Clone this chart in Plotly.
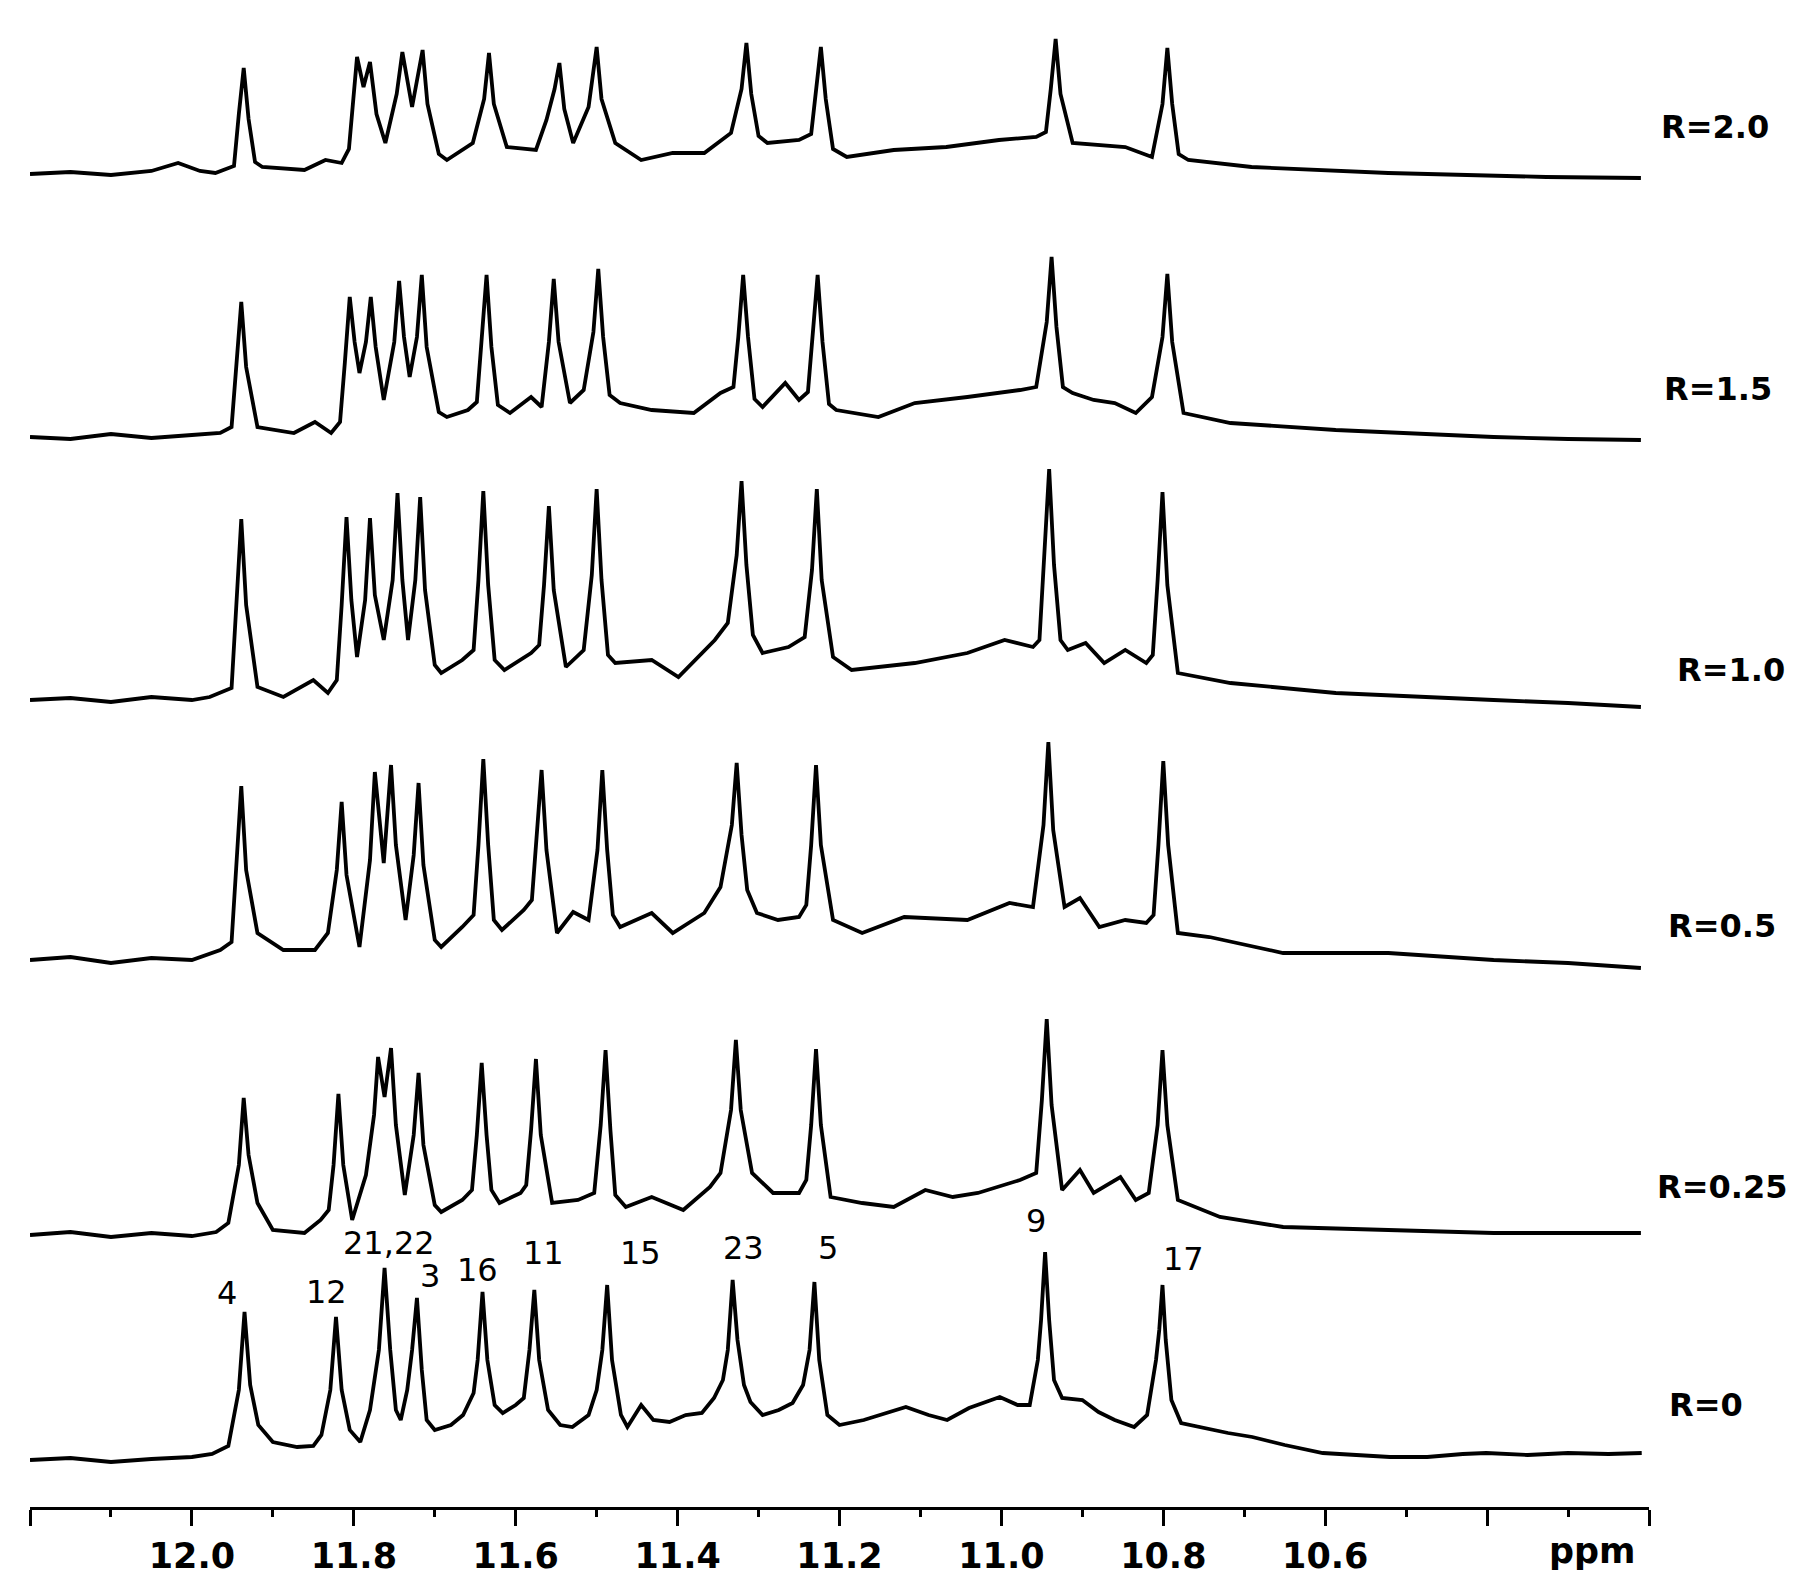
import plotly.graph_objects as go

# ---- traced spectra: (chemical shift ppm, intensity above own baseline) ----
R0 = [(12.200, 0), (12.150, 2), (12.100, -2), (12.050, 1), (12.000, 3), (11.975, 6),
      (11.955, 14), (11.942, 70), (11.935, 148), (11.928, 75), (11.918, 35), (11.900, 18),
      (11.870, 13), (11.850, 14),
      (11.840, 25), (11.829, 70), (11.822, 143), (11.815, 70), (11.805, 30), (11.792, 18),
      (11.780, 50), (11.769, 110), (11.762, 192), (11.755, 110), (11.748, 50), (11.742, 40),
      (11.734, 70), (11.728, 110), (11.722, 162), (11.716, 90), (11.710, 40), (11.700, 30),
      (11.680, 35), (11.665, 45), (11.652, 67),
      (11.647, 100), (11.641, 168), (11.635, 100), (11.626, 55), (11.616, 47),
      (11.600, 55), (11.590, 62),
      (11.583, 110), (11.577, 170), (11.571, 100), (11.560, 50), (11.545, 35), (11.530, 33), (11.510, 45),
      (11.500, 70), (11.493, 110), (11.487, 175), (11.481, 100), (11.470, 45), (11.462, 33),
      (11.445, 55), (11.430, 40), (11.410, 38), (11.390, 45), (11.370, 47), (11.355, 62), (11.344, 80),
      (11.338, 110), (11.332, 180), (11.326, 120), (11.318, 75), (11.310, 58), (11.295, 45), (11.275, 50), (11.258, 57),
      (11.245, 75), (11.237, 110), (11.231, 178), (11.225, 100), (11.215, 45), (11.200, 35),
      (11.170, 40), (11.140, 48), (11.118, 53), (11.090, 45), (11.067, 40), (11.040, 52), (11.002, 63), (10.980, 55), (10.965, 55),
      (10.955, 100), (10.951, 140), (10.946, 208), (10.941, 140), (10.935, 80), (10.925, 62), (10.900, 60), (10.880, 48),
      (10.860, 40), (10.836, 33), (10.820, 45),
      (10.809, 100), (10.805, 130), (10.801, 175), (10.797, 120), (10.790, 60), (10.778, 37),
      (10.750, 32), (10.720, 27), (10.690, 23), (10.650, 15), (10.603, 7), (10.560, 5), (10.520, 3), (10.474, 3),
      (10.430, 6), (10.401, 7), (10.350, 5), (10.300, 7), (10.250, 6), (10.209, 7)]

R025 = [(12.200, 0), (12.150, 3), (12.100, -2), (12.050, 2), (12.000, -1), (11.970, 3), (11.955, 12),
        (11.942, 70), (11.936, 137), (11.930, 80), (11.919, 32), (11.900, 5), (11.861, 2), (11.841, 15),
        (11.831, 25), (11.825, 70), (11.819, 141), (11.813, 70), (11.802, 15),
        (11.785, 60), (11.775, 120), (11.770, 178), (11.762, 138), (11.754, 187), (11.748, 110), (11.737, 40),
        (11.726, 100), (11.720, 162), (11.714, 90), (11.700, 30), (11.692, 23), (11.666, 35),
        (11.654, 45), (11.648, 100), (11.642, 172), (11.636, 100), (11.630, 45), (11.620, 32), (11.594, 42),
        (11.587, 50), (11.581, 105), (11.575, 176), (11.569, 100), (11.555, 32), (11.523, 35), (11.503, 42),
        (11.495, 110), (11.489, 185), (11.483, 105), (11.477, 40), (11.464, 28), (11.432, 38), (11.393, 25),
        (11.360, 48), (11.347, 62),
        (11.334, 125), (11.328, 195), (11.322, 125), (11.308, 62), (11.282, 42), (11.250, 42),
        (11.241, 55), (11.235, 110), (11.229, 186), (11.223, 110), (11.211, 38), (11.172, 32), (11.133, 28), (11.094, 45),
        (11.060, 38), (11.029, 42), (10.977, 55), (10.957, 62),
        (10.950, 135), (10.944, 216), (10.938, 130), (10.925, 45), (10.903, 65), (10.886, 42), (10.853, 58),
        (10.834, 35), (10.818, 42),
        (10.807, 110), (10.801, 185), (10.795, 110), (10.782, 35), (10.730, 18), (10.652, 8), (10.522, 5),
        (10.392, 2), (10.210, 2)]

R05 = [(12.200, 0), (12.150, 3), (12.100, -3), (12.050, 2), (12.000, 0), (11.965, 10),
       (11.951, 18), (11.945, 90), (11.939, 174), (11.933, 90), (11.919, 27), (11.887, 10), (11.848, 10), (11.832, 27),
       (11.821, 90), (11.815, 158), (11.809, 85), (11.793, 13),
       (11.780, 100), (11.774, 188), (11.763, 97), (11.754, 195), (11.748, 115), (11.736, 40),
       (11.726, 105), (11.720, 177), (11.714, 95), (11.700, 20), (11.692, 13), (11.666, 33),
       (11.652, 45), (11.646, 115), (11.640, 201), (11.634, 115), (11.627, 40), (11.617, 30), (11.590, 50),
       (11.580, 60), (11.574, 120), (11.568, 190), (11.562, 110), (11.549, 27), (11.529, 48), (11.510, 40),
       (11.499, 110), (11.493, 190), (11.487, 110), (11.480, 45), (11.471, 33), (11.432, 47), (11.406, 27),
       (11.367, 47), (11.347, 73),
       (11.333, 135), (11.327, 197), (11.321, 125), (11.314, 70), (11.302, 47), (11.276, 40), (11.250, 43),
       (11.241, 55), (11.235, 115), (11.229, 195), (11.223, 115), (11.208, 40), (11.172, 27), (11.120, 43), (11.042, 40),
       (10.990, 57), (10.961, 53),
       (10.948, 135), (10.942, 218), (10.936, 130), (10.922, 53), (10.903, 62), (10.879, 33), (10.847, 40), (10.821, 37),
       (10.812, 45), (10.806, 115), (10.800, 199), (10.794, 115), (10.782, 27), (10.743, 23), (10.652, 7), (10.522, 7),
       (10.392, 0), (10.300, -3), (10.210, -8)]

R10 = [(12.200, 0), (12.150, 2), (12.100, -2), (12.050, 3), (12.000, 0), (11.978, 3),
       (11.951, 12), (11.945, 95), (11.939, 181), (11.933, 95), (11.919, 13), (11.887, 3), (11.850, 20), (11.832, 7),
       (11.821, 20), (11.815, 95), (11.809, 183), (11.803, 100), (11.796, 43), (11.786, 100), (11.780, 182), (11.774, 105),
       (11.763, 60), (11.752, 120), (11.746, 207), (11.740, 120), (11.733, 60), (11.724, 120), (11.718, 203),
       (11.712, 110), (11.700, 35), (11.692, 27), (11.666, 40),
       (11.652, 50), (11.646, 120), (11.640, 209), (11.634, 115), (11.626, 40), (11.614, 30), (11.581, 47),
       (11.571, 55), (11.565, 115), (11.559, 194), (11.553, 110), (11.538, 33), (11.516, 50),
       (11.506, 125), (11.500, 211), (11.494, 120), (11.486, 45), (11.477, 37), (11.432, 40), (11.399, 23),
       (11.354, 60), (11.338, 77),
       (11.327, 145), (11.321, 219), (11.315, 135), (11.307, 65), (11.295, 47), (11.263, 53), (11.243, 63),
       (11.234, 130), (11.228, 211), (11.222, 120), (11.208, 43), (11.185, 30), (11.107, 37), (11.042, 47),
       (10.996, 60), (10.961, 53),
       (10.953, 60), (10.947, 140), (10.941, 231), (10.935, 135), (10.927, 60), (10.918, 50), (10.896, 57),
       (10.873, 37), (10.847, 50), (10.821, 37),
       (10.813, 45), (10.807, 120), (10.801, 208), (10.795, 115), (10.782, 27), (10.717, 17), (10.587, 7), (10.392, 0),
       (10.300, -3), (10.210, -7)]

R15 = [(12.200, 0), (12.150, -2), (12.100, 3), (12.050, -1), (12.000, 2), (11.965, 4),
       (11.951, 10), (11.945, 70), (11.939, 135), (11.933, 70), (11.919, 10), (11.874, 4), (11.848, 15), (11.828, 4),
       (11.817, 15), (11.811, 75), (11.805, 140), (11.799, 95), (11.793, 64), (11.785, 95), (11.779, 140), (11.773, 90),
       (11.763, 37), (11.750, 95), (11.744, 156), (11.738, 100), (11.731, 60), (11.722, 100), (11.716, 162),
       (11.710, 90), (11.695, 25), (11.685, 20), (11.659, 27),
       (11.648, 35), (11.642, 95), (11.636, 162), (11.630, 90), (11.622, 32), (11.607, 24), (11.581, 40), (11.568, 30),
       (11.559, 95), (11.553, 158), (11.547, 95), (11.533, 34), (11.516, 47),
       (11.504, 105), (11.498, 168), (11.492, 100), (11.484, 42), (11.471, 34), (11.432, 27), (11.380, 24), (11.347, 44),
       (11.331, 50), (11.325, 100), (11.319, 162), (11.313, 100), (11.305, 38), (11.295, 30), (11.267, 54), (11.250, 37),
       (11.239, 45), (11.233, 100), (11.227, 162), (11.221, 95), (11.213, 33), (11.204, 27), (11.152, 20),
       (11.107, 34), (11.042, 40), (10.977, 47), (10.957, 50),
       (10.944, 115), (10.938, 180), (10.932, 110), (10.924, 50), (10.912, 44), (10.886, 37), (10.860, 34),
       (10.834, 24), (10.814, 40),
       (10.801, 100), (10.795, 163), (10.789, 95), (10.775, 24), (10.717, 14), (10.587, 7), (10.392, 0),
       (10.300, -2), (10.210, -3)]

R20 = [(12.200, 0), (12.150, 2), (12.100, -1), (12.050, 3), (12.017, 11), (11.990, 3), (11.971, 1),
       (11.948, 8), (11.942, 60), (11.936, 106), (11.930, 55), (11.922, 12), (11.913, 7), (11.861, 4), (11.835, 14),
       (11.815, 11), (11.806, 25),
       (11.801, 70), (11.796, 117), (11.788, 87), (11.780, 112), (11.772, 60), (11.761, 31), (11.747, 80),
       (11.740, 122), (11.728, 67), (11.715, 124),
       (11.709, 70), (11.695, 20), (11.685, 14), (11.653, 31),
       (11.639, 75), (11.633, 121), (11.627, 70), (11.611, 27), (11.575, 24), (11.562, 54),
       (11.552, 85), (11.546, 111), (11.540, 65), (11.529, 31), (11.510, 67), (11.500, 127), (11.494, 75),
       (11.477, 31), (11.445, 14), (11.406, 21), (11.367, 21), (11.334, 41),
       (11.321, 85), (11.315, 131), (11.309, 80), (11.300, 38), (11.289, 31), (11.250, 34),
       (11.235, 40), (11.229, 80), (11.223, 127), (11.217, 75), (11.208, 25), (11.191, 17), (11.133, 24),
       (11.068, 27), (11.003, 34), (10.957, 37),
       (10.945, 42), (10.939, 85), (10.933, 135), (10.927, 80), (10.912, 31), (10.847, 27), (10.814, 17),
       (10.801, 70), (10.795, 126), (10.789, 70), (10.781, 20), (10.769, 14), (10.691, 7), (10.522, 1),
       (10.327, -3), (10.210, -4)]

spectrum_names = ["R=0", "R=0.25", "R=0.5", "R=1.0", "R=1.5", "R=2.0"]
spectra = [R0, R025, R05, R10, R15, R20]

# peak assignments (shown above the R=0 trace)
peak_labels = ["4", "12", "21,22", "3", "16", "11", "15", "23", "5", "9", "17"]
peak_label_ppm = [11.957, 11.834, 11.757, 11.706, 11.647, 11.566, 11.446, 11.318, 11.214, 10.957, 10.775]

# x-axis ticks
tick_ppm = [12.2, 12.0, 11.8, 11.6, 11.4, 11.2, 11.0, 10.8, 10.6, 10.4, 10.2]
tick_text = ["", "12.0", "11.8", "11.6", "11.4", "11.2", "11.0", "10.8", "10.6", "", ""]
minor_ppm = [12.1, 11.9, 11.7, 11.5, 11.3, 11.1, 10.9, 10.7, 10.5, 10.3]

# ---- layout (vertical stacking, label placement) ----
stack_offset = [47, 272, 547, 807, 1070, 1333]
name_pos_paper = [(1.0352, 0.0677), (1.0451, 0.2123), (1.0451, 0.3855),
                  (1.0507, 0.5554), (1.0426, 0.7419), (1.0408, 0.9157)]
peak_label_y = [214, 215, 264, 231, 237, 254, 254, 259, 259, 286, 248]

fig = go.Figure()
for name, trace, off in zip(spectrum_names, spectra, stack_offset):
    xs = [p for p, _ in trace]
    ys = [v + off for _, v in trace]
    fig.add_trace(go.Scatter(x=xs, y=ys, mode="lines", name=name,
                             line=dict(color="black", width=3.8), showlegend=False,
                             hoverinfo="skip"))

annotations = []
for name, (px, py) in zip(spectrum_names, name_pos_paper):
    annotations.append(dict(x=px, y=py, xref="paper", yref="paper", text=name, showarrow=False,
                            xanchor="center", yanchor="middle",
                            font=dict(family="DejaVu Sans", size=32, color="black", weight="bold")))
for lab, px, py in zip(peak_labels, peak_label_ppm, peak_label_y):
    annotations.append(dict(x=px, y=py, xref="x", yref="y", text=lab, showarrow=False,
                            xanchor="center", yanchor="middle",
                            font=dict(family="DejaVu Sans", size=32, color="black")))
annotations.append(dict(x=0.9654, y=-0.0292, xref="paper", yref="paper", text="ppm", showarrow=False,
                        xanchor="center", yanchor="middle",
                        font=dict(family="DejaVu Sans", size=35, color="black", weight="bold")))

fig.update_layout(
    width=1819, height=1581,
    margin=dict(l=30, r=170, t=0, b=74),
    plot_bgcolor="white", paper_bgcolor="white",
    annotations=annotations,
    xaxis=dict(range=[12.2, 10.2], showgrid=False, zeroline=False,
               showline=True, linecolor="black", linewidth=3,
               ticks="outside", ticklen=16, tickwidth=3, tickcolor="black",
               tickmode="array", tickvals=tick_ppm, ticktext=tick_text,
               ticklabelstandoff=0,
               tickfont=dict(family="DejaVu Sans", size=35, color="black", weight="bold"),
               minor=dict(tickmode="array", tickvals=minor_ppm, ticks="outside",
                          ticklen=7, tickwidth=3, tickcolor="black", showgrid=False)),
    yaxis=dict(range=[0, 1507], visible=False, showgrid=False, zeroline=False),
)

fig.write_html("out.html", config={"displayModeBar": False},
               post_script="document.body.style.margin='0';")
